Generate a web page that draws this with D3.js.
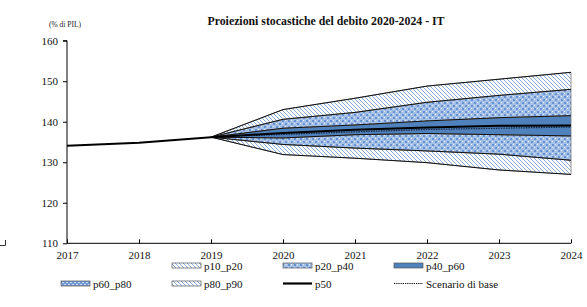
<!DOCTYPE html>
<html><head><meta charset="utf-8">
<script src="https://cdn.jsdelivr.net/npm/d3@7"></script>
<style>body{margin:0;background:#fff;} svg{display:block;font-family:"Liberation Serif","Times New Roman",serif;}</style>
</head><body>
<script>
const histYears = [2017, 2018, 2019];
const histValues = [134.1, 134.8, 136.2];
const fanYears = [2019, 2020, 2021, 2022, 2023, 2024];
const p10 = [136.2, 131.9, 131.0, 129.9, 128.1, 127.0];
const p20 = [136.2, 134.4, 133.5, 132.8, 132.0, 130.5];
const p40 = [136.2, 136.0, 136.8, 137.1, 136.8, 136.5];
const p50 = [136.2, 137.2, 138.0, 138.6, 139.0, 139.1];
const p60 = [136.2, 138.4, 139.2, 140.2, 141.0, 141.5];
const p80 = [136.2, 140.6, 142.3, 144.8, 146.5, 148.0];
const p90 = [136.2, 143.0, 145.8, 148.8, 150.5, 152.2];
const base = [136.2, 136.9, 137.5, 138.1, 138.4, 138.7];
const yTicks = [110, 120, 130, 140, 150, 160];
const xTicks = [2017, 2018, 2019, 2020, 2021, 2022, 2023, 2024];
const title = "Proiezioni  stocastiche del debito 2020-2024 - IT";
const unitLabel = "(% di PIL)";

const W = 587, H = 307;
const svg = d3.select("body").append("svg").attr("width", W).attr("height", H);
const defs = svg.append("defs");

const hatch = defs.append("pattern").attr("id","hatch").attr("patternUnits","userSpaceOnUse").attr("width",4).attr("height",4);
hatch.append("rect").attr("width",4).attr("height",4).attr("fill","#fff");
hatch.append("path").attr("d","M-1,-1 L5,5 M-1,3 L1,5 M3,-1 L5,1").attr("stroke","#86abdc").attr("stroke-width",1);
const check = defs.append("pattern").attr("id","check").attr("patternUnits","userSpaceOnUse").attr("width",6).attr("height",6);
check.append("rect").attr("width",6).attr("height",6).attr("fill","#a6c1e8");
check.append("rect").attr("x",0).attr("y",0).attr("width",2).attr("height",2).attr("fill","#6891d2");
check.append("rect").attr("x",3).attr("y",3).attr("width",2).attr("height",2).attr("fill","#6891d2");
check.append("rect").attr("x",3).attr("y",0).attr("width",1).attr("height",1).attr("fill","#e6eef9");
check.append("rect").attr("x",0).attr("y",3).attr("width",1).attr("height",1).attr("fill","#e6eef9");
const check2 = defs.append("pattern").attr("id","check2").attr("patternUnits","userSpaceOnUse").attr("width",4).attr("height",4);
check2.append("rect").attr("width",4).attr("height",4).attr("fill","#6f98d4");
check2.append("rect").attr("x",0).attr("y",0).attr("width",2).attr("height",1).attr("fill","#cfdcf2");
check2.append("rect").attr("x",2).attr("y",2).attr("width",2).attr("height",1).attr("fill","#cfdcf2");

const x = d3.scaleLinear().domain([2017, 2024]).range([67, 571]);
const y = d3.scaleLinear().domain([110, 160]).range([243.3, 40.7]);

const fan = fanYears.map((yr, i) => ({yr, p10:p10[i], p20:p20[i], p40:p40[i], p50:p50[i], p60:p60[i], p80:p80[i], p90:p90[i], base:base[i]}));
const bands = [
  {lo:"p10", hi:"p20", fill:"url(#hatch)"},
  {lo:"p20", hi:"p40", fill:"url(#check)"},
  {lo:"p40", hi:"p60", fill:"#4f81bd"},
  {lo:"p60", hi:"p80", fill:"url(#check)"},
  {lo:"p80", hi:"p90", fill:"url(#hatch)"}
];
bands.forEach(b => {
  const area = d3.area().x(d => x(d.yr)).y0(d => y(d[b.lo])).y1(d => y(d[b.hi]));
  svg.append("path").datum(fan).attr("d", area).attr("fill", b.fill).attr("stroke","#777").attr("stroke-width",0.8);
});
["p10","p20","p40","p60","p80","p90"].forEach(k => {
  const line = d3.line().x(d => x(d.yr)).y(d => y(d[k]));
  svg.append("path").datum(fan).attr("d", line).attr("fill","none").attr("stroke","#111").attr("stroke-width",1);
});
svg.append("path").datum(fan).attr("d", d3.line().x(d => x(d.yr)).y(d => y(d.base)))
  .attr("fill","none").attr("stroke","#1a2a44").attr("stroke-width",1.3).attr("stroke-dasharray","1.5,1");
const medianPts = histYears.map((yr,i)=>({yr, v:histValues[i]})).concat(fanYears.slice(1).map((yr,i)=>({yr, v:p50[i+1]})));
svg.append("path").datum(medianPts).attr("d", d3.line().x(d => x(d.yr)).y(d => y(d.v)))
  .attr("fill","none").attr("stroke","#000").attr("stroke-width",2);

const yAxis = svg.append("g").attr("transform","translate(67,0)")
  .call(d3.axisLeft(y).tickValues(yTicks).tickSize(4).tickFormat(d3.format("d")));
yAxis.select(".domain").attr("stroke","#000").attr("d", `M-4,${y(160)}H0V${y(110)}`);
yAxis.selectAll("text").attr("font-size",11).attr("font-family","Liberation Serif").attr("fill","#111").attr("x",-9);
yAxis.selectAll(".tick line").attr("stroke","#000");

const xAxis = svg.append("g").attr("transform",`translate(0,${y(110)})`)
  .call(d3.axisBottom(x).tickValues(xTicks).tickSize(-4).tickFormat(d3.format("d")));
xAxis.select(".domain").attr("stroke","#000").attr("d", `M${x(2017)},0H${x(2024)}`);
xAxis.selectAll("text").attr("font-size",11).attr("font-family","Liberation Serif").attr("fill","#111").attr("y",8);
xAxis.selectAll(".tick line").attr("stroke","#000");

svg.append("text").attr("x",326).attr("y",25).attr("text-anchor","middle").attr("font-weight","bold")
  .attr("font-size",11.8).attr("fill","#111").text(title);
svg.append("text").attr("x",65).attr("y",27).attr("text-anchor","middle").attr("font-size",7.5).attr("fill","#222").text(unitLabel);

svg.append("path").attr("d","M5.5,240V245.5H0").attr("fill","none").attr("stroke","#333").attr("stroke-width",1);

const legendItems = [
  {label:"p10_p20", type:"box", fill:"url(#hatch)", x:172, y:270},
  {label:"p20_p40", type:"box", fill:"url(#check)", x:283, y:270},
  {label:"p40_p60", type:"box", fill:"#4f81bd", x:394, y:270},
  {label:"p60_p80", type:"box", fill:"url(#check2)", x:61, y:288},
  {label:"p80_p90", type:"box", fill:"url(#hatch)", x:172, y:288},
  {label:"p50", type:"line", x:283, y:288},
  {label:"Scenario di base", type:"dash", x:394, y:288}
];
const lg = svg.append("g");
legendItems.forEach(it => {
  if (it.type === "box") {
    lg.append("rect").attr("x",it.x).attr("y",it.y-7).attr("width",29).attr("height",5).attr("fill",it.fill).attr("stroke","#555").attr("stroke-width",0.7);
  } else if (it.type === "line") {
    lg.append("line").attr("x1",it.x).attr("x2",it.x+29).attr("y1",it.y-4.5).attr("y2",it.y-4.5).attr("stroke","#000").attr("stroke-width",2.2);
  } else {
    lg.append("line").attr("x1",it.x).attr("x2",it.x+29).attr("y1",it.y-4.5).attr("y2",it.y-4.5).attr("stroke","#000").attr("stroke-width",1).attr("stroke-dasharray","1.2,1");
  }
  lg.append("text").attr("x",it.x+32).attr("y",it.y).attr("font-size",11).attr("fill","#111").text(it.label);
});
</script>
</body></html>
